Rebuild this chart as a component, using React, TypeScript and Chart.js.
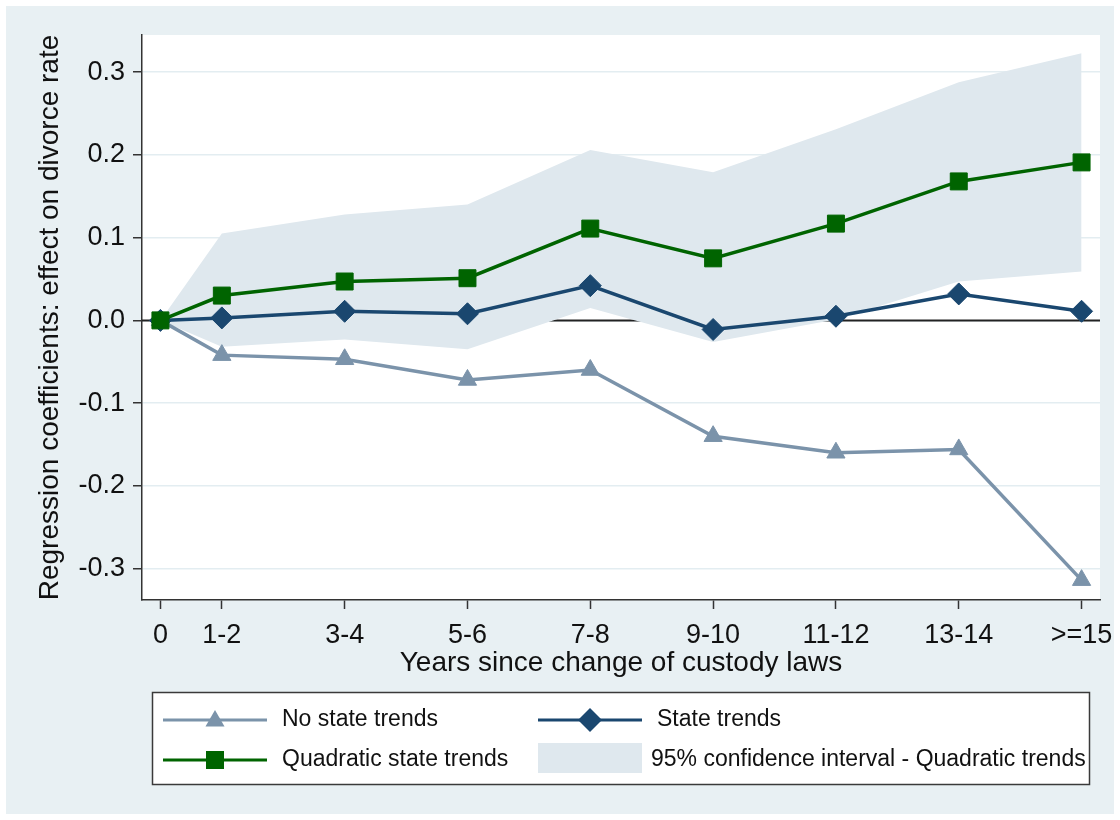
import React, { useEffect, useRef } from 'react';
import { Chart, registerables } from 'chart.js';

Chart.register(...registerables);

// ---------- data ----------
const X_LABELS = ['0', '1-2', '3-4', '5-6', '7-8', '9-10', '11-12', '13-14', '>=15'];
const X_POS = [0, 1, 3, 5, 7, 9, 11, 13, 15];
const Y_TICKS = [-0.3, -0.2, -0.1, 0, 0.1, 0.2, 0.3];

const NO_STATE_TRENDS = [0, -0.042, -0.047, -0.072, -0.06, -0.14, -0.16, -0.156, -0.314];
const STATE_TRENDS = [0, 0.003, 0.011, 0.008, 0.042, -0.011, 0.005, 0.032, 0.011];
const QUADRATIC_TRENDS = [0, 0.03, 0.047, 0.051, 0.111, 0.075, 0.117, 0.168, 0.191];
const CI_UPPER = [0, 0.105, 0.128, 0.14, 0.206, 0.179, 0.231, 0.288, 0.323];
const CI_LOWER = [0, -0.032, -0.023, -0.035, 0.015, -0.026, 0.001, 0.047, 0.059];

const LEGEND_LABELS = [
  'No state trends',
  'State trends',
  'Quadratic state trends',
  '95% confidence interval - Quadratic trends',
];

// ---------- style ----------
const FONT = "'Liberation Sans', Arial, Helvetica, sans-serif";
const BG = '#e8f0f3';
const GRID = '#e3edf1';
const CI_COLOR = '#dfe8ee';
const GREEN = '#006400';
const NAVY = '#1a476f';
const SLATE = '#7b93aa';
const AXIS = '#333333';
const TEXT = '#111111';

const W = 1108;
const H = 808;

function drawTriangle(ctx: CanvasRenderingContext2D, x: number, y: number, r: number) {
  ctx.beginPath();
  ctx.moveTo(x, y - r);
  ctx.lineTo(x + 0.866 * r, y + 0.5 * r);
  ctx.lineTo(x - 0.866 * r, y + 0.5 * r);
  ctx.closePath();
  ctx.fill();
}
function drawSquare(ctx: CanvasRenderingContext2D, x: number, y: number, s: number) {
  ctx.fillRect(x - s, y - s, 2 * s, 2 * s);
}
function drawDiamond(ctx: CanvasRenderingContext2D, x: number, y: number, r: number) {
  ctx.beginPath();
  ctx.moveTo(x, y - r);
  ctx.lineTo(x + r, y);
  ctx.lineTo(x, y + r);
  ctx.lineTo(x - r, y);
  ctx.closePath();
  ctx.fill();
}

export default function App() {
  const ref = useRef<HTMLCanvasElement>(null);

  useEffect(() => {
    if (!ref.current) return;
    const pts = (ys: number[]) => X_POS.map((x, i) => ({ x, y: ys[i] }));

    const bgPlugin = {
      id: 'bgPlugin',
      beforeDraw(chart: any) {
        const { ctx, chartArea: a } = chart;
        ctx.save();
        ctx.fillStyle = BG;
        ctx.fillRect(0, 0, chart.width, chart.height);
        ctx.fillStyle = '#ffffff';
        ctx.fillRect(a.left, a.top, a.right - a.left, a.bottom - a.top);
        ctx.restore();
      },
    };

    const zeroLinePlugin = {
      id: 'zeroLine',
      beforeDatasetsDraw(chart: any) {
        const { ctx, chartArea: a } = chart;
        const y = chart.scales.y.getPixelForValue(0);
        ctx.save();
        ctx.strokeStyle = '#222222';
        ctx.lineWidth = 2;
        ctx.beginPath();
        ctx.moveTo(a.left, y);
        ctx.lineTo(a.right, y);
        ctx.stroke();
        ctx.restore();
      },
    };

    const legendPlugin = {
      id: 'customLegend',
      afterDraw(chart: any) {
        const ctx: CanvasRenderingContext2D = chart.ctx;
        ctx.save();
        // box
        ctx.fillStyle = '#ffffff';
        ctx.fillRect(146, 686, 937, 92);
        ctx.strokeStyle = '#3a3a3a';
        ctx.lineWidth = 1.5;
        ctx.strokeRect(146.5, 686.5, 937, 92);

        const row1 = 714;
        const row2 = 754;
        const c1a = 157, c1b = 261;
        const c2a = 532, c2b = 636;

        ctx.lineWidth = 3;
        // No state trends
        ctx.strokeStyle = SLATE;
        ctx.beginPath(); ctx.moveTo(c1a, row1); ctx.lineTo(c1b, row1); ctx.stroke();
        ctx.fillStyle = SLATE;
        drawTriangle(ctx, (c1a + c1b) / 2, row1 + 1, 11);
        // State trends
        ctx.strokeStyle = NAVY;
        ctx.beginPath(); ctx.moveTo(c2a, row1); ctx.lineTo(c2b, row1); ctx.stroke();
        ctx.fillStyle = NAVY;
        drawDiamond(ctx, (c2a + c2b) / 2, row1, 12);
        // Quadratic
        ctx.strokeStyle = GREEN;
        ctx.beginPath(); ctx.moveTo(c1a, row2); ctx.lineTo(c1b, row2); ctx.stroke();
        ctx.fillStyle = GREEN;
        drawSquare(ctx, (c1a + c1b) / 2, row2, 9);
        // CI swatch
        ctx.fillStyle = CI_COLOR;
        ctx.fillRect(c2a, 737, c2b - c2a, 30);

        ctx.fillStyle = TEXT;
        ctx.font = `23px ${FONT}`;
        ctx.textBaseline = 'middle';
        ctx.textAlign = 'left';
        ctx.fillText(LEGEND_LABELS[0], 276, row1);
        ctx.fillText(LEGEND_LABELS[1], 651, row1);
        ctx.fillText(LEGEND_LABELS[2], 276, row2);
        ctx.fillText(LEGEND_LABELS[3], 645, row2);
        ctx.restore();
      },
    };

    const chart = new Chart(ref.current, {
      type: 'line',
      data: {
        datasets: [
          {
            label: 'Quadratic state trends',
            data: pts(QUADRATIC_TRENDS),
            borderColor: GREEN,
            backgroundColor: GREEN,
            borderWidth: 3.5,
            pointStyle: 'rect',
            pointRadius: 12,
            pointBorderWidth: 1,
            pointBorderColor: GREEN,
            fill: false,
          },
          {
            label: 'State trends',
            data: pts(STATE_TRENDS),
            borderColor: NAVY,
            backgroundColor: NAVY,
            borderWidth: 3.5,
            pointStyle: 'rectRot',
            pointRadius: 11,
            pointBorderWidth: 1,
            pointBorderColor: NAVY,
            fill: false,
          },
          {
            label: 'No state trends',
            data: pts(NO_STATE_TRENDS),
            borderColor: SLATE,
            backgroundColor: SLATE,
            borderWidth: 3.5,
            pointStyle: 'triangle',
            pointRadius: 10.5,
            pointBorderWidth: 1,
            pointBorderColor: SLATE,
            fill: false,
          },
          {
            label: 'CI upper',
            data: pts(CI_UPPER),
            borderColor: 'rgba(0,0,0,0)',
            borderWidth: 0,
            pointRadius: 0,
            backgroundColor: CI_COLOR,
            fill: '+1',
          },
          {
            label: 'CI lower',
            data: pts(CI_LOWER),
            borderColor: 'rgba(0,0,0,0)',
            borderWidth: 0,
            pointRadius: 0,
            fill: false,
          },
        ],
      },
      options: {
        responsive: false,
        animation: false,
        events: [],
        layout: { padding: { left: 0, top: 29, right: 14, bottom: 137 } },
        plugins: {
          legend: { display: false },
          tooltip: { enabled: false },
        },
        scales: {
          x: {
            type: 'linear',
            min: -0.3,
            max: 15.3,
            afterBuildTicks: (s: any) => {
              s.ticks = X_POS.map((v) => ({ value: v }));
            },
            afterFit: (s: any) => {
              s.height = 77;
              s.paddingLeft = 0;
              s.paddingRight = 0;
            },
            ticks: {
              autoSkip: false,
              maxRotation: 0,
              padding: 10,
              color: TEXT,
              font: { size: 27, family: FONT },
              callback: (v: any) => {
                const i = X_POS.indexOf(Number(v));
                return i >= 0 ? X_LABELS[i] : '';
              },
            },
            grid: {
              drawOnChartArea: false,
              drawTicks: true,
              tickLength: 9,
              tickColor: AXIS,
              tickWidth: 1.5,
            },
            border: { display: true, color: AXIS, width: 1.5 },
            title: {
              display: true,
              text: 'Years since change of custody laws',
              color: TEXT,
              font: { size: 28, family: FONT, lineHeight: 1 },
              padding: { top: 0, bottom: 0 },
            },
          },
          y: {
            type: 'linear',
            min: -0.338,
            max: 0.345,
            afterBuildTicks: (s: any) => {
              s.ticks = Y_TICKS.map((v) => ({ value: v }));
            },
            afterFit: (s: any) => {
              s.width = 136;
              s.paddingTop = 0;
              s.paddingBottom = 0;
            },
            ticks: {
              padding: 8,
              color: TEXT,
              font: { size: 27, family: FONT },
              callback: (v: any) => Number(v).toFixed(1),
            },
            grid: {
              color: GRID,
              lineWidth: 1.5,
              tickColor: AXIS,
              tickLength: 9,
              tickWidth: 1.5,
            },
            border: { display: true, color: AXIS, width: 1.5 },
            title: {
              display: true,
              text: 'Regression coefficients: effect on divorce rate',
              color: TEXT,
              font: { size: 28, family: FONT, lineHeight: 1 },
              padding: { top: 30, bottom: 0 },
            },
          },
        },
      },
      plugins: [bgPlugin, zeroLinePlugin, legendPlugin],
    } as any);

    return () => chart.destroy();
  }, []);

  return (
    <div style={{ position: 'absolute', left: 6, top: 6, width: W, height: H }}>
      <canvas ref={ref} width={W} height={H} style={{ display: 'block', width: W, height: H }} />
    </div>
  );
}
